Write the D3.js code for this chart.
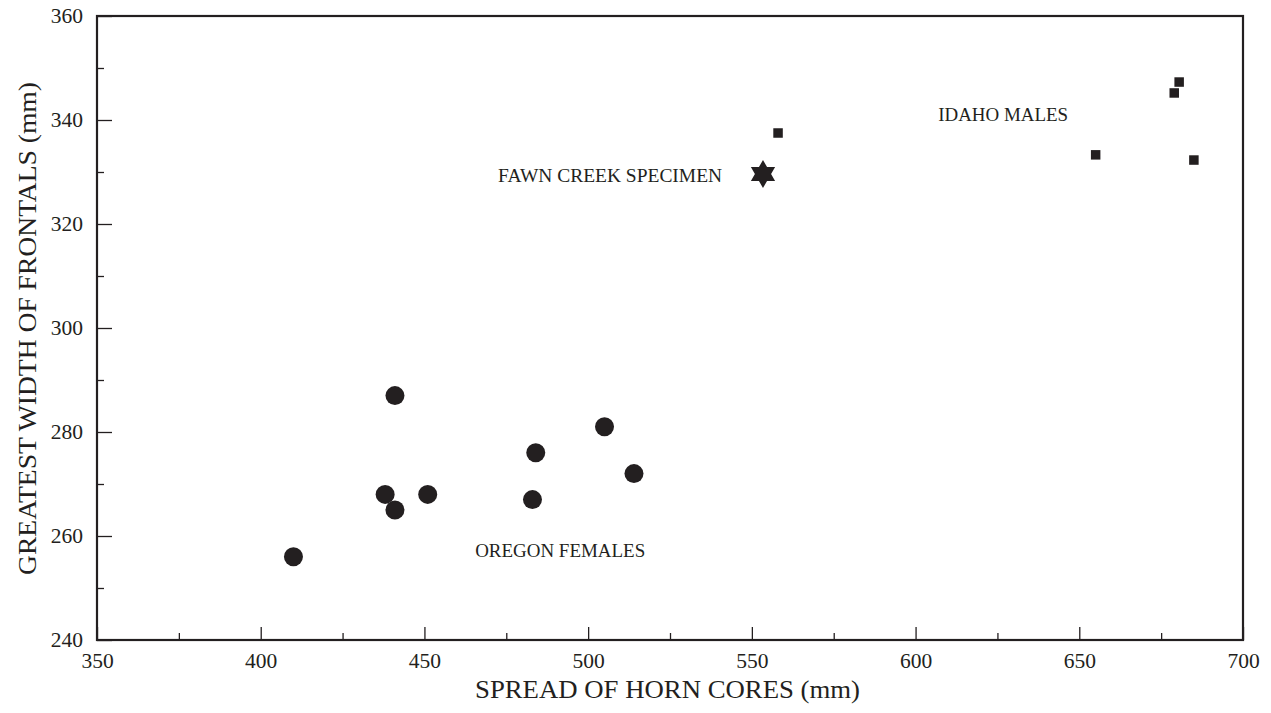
<!DOCTYPE html>
<html>
<head>
<meta charset="utf-8">
<script src="https://cdn.jsdelivr.net/npm/d3@7"></script>
<style>
  body { margin: 0; background: #fff; }
  text { font-family: "Liberation Serif", "Times New Roman", serif; fill: #231f20; }
</style>
</head>
<body>
<div id="chart"></div>
<script>
// data
var oregonX = [410, 441, 438, 441, 451, 483, 484, 505, 514];
var oregonY = [256, 287, 268, 265, 268, 267, 276, 281, 272];

var idahoX = [558, 655, 679, 680.5, 685];
var idahoY = [337.5, 333.3, 345.2, 347.3, 332.3];

var fawnX = [553.4];
var fawnY = [329.6];

var xTicks = [350, 400, 450, 500, 550, 600, 650, 700];
var xMinor = [375, 425, 475, 525, 575, 625, 675];
var yTicks = [240, 260, 280, 300, 320, 340, 360];
var yMinor = [250, 270, 290, 310, 330, 350];

var labelText = ["IDAHO MALES", "FAWN CREEK SPECIMEN", "OREGON FEMALES"];
var labelX = [606.9, 472.5, 465.5];
var labelY = [339.8, 328.1, 256];

//set up graph boundaries
var svgWidth = 1271;
var svgHeight = 713;
var margin = { top: 16, right: 28, bottom: 73, left: 97 };
var width = svgWidth - margin.left - margin.right;
var height = svgHeight - margin.top - margin.bottom;

var ink = "#231f20";

var svg = d3.select("#chart")
  .append("svg")
  .attr("width", svgWidth)
  .attr("height", svgHeight);

var chartGroup = svg.append("g")
  .attr("transform", `translate(${margin.left}, ${margin.top})`);

// scales
var xScale = d3.scaleLinear().domain([350, 700]).range([0, width]);
var yScale = d3.scaleLinear().domain([240, 360]).range([height, 0]);

// major axes, ticks pointing inward
var bottomAxis = d3.axisBottom(xScale)
  .tickValues(xTicks).tickSize(-13).tickPadding(13).tickFormat(d3.format("d"));
var leftAxis = d3.axisLeft(yScale)
  .tickValues(yTicks).tickSize(-15).tickPadding(14).tickFormat(d3.format("d"));

chartGroup.append("g")
  .attr("transform", `translate(0, ${height})`)
  .call(bottomAxis);
chartGroup.append("g").call(leftAxis);

// minor ticks
chartGroup.append("g")
  .attr("transform", `translate(0, ${height})`)
  .call(d3.axisBottom(xScale).tickValues(xMinor).tickSize(-7).tickFormat(""));
chartGroup.append("g")
  .call(d3.axisLeft(yScale).tickValues(yMinor).tickSize(-7).tickFormat(""));

chartGroup.selectAll(".domain").remove();
chartGroup.selectAll(".tick line").attr("stroke", ink).attr("stroke-width", 1.3);
chartGroup.selectAll(".tick text")
  .style("font-family", "'Liberation Serif', serif")
  .style("font-size", "21.5px")
  .attr("fill", ink);

// frame
chartGroup.append("rect")
  .attr("x", 0).attr("y", 0)
  .attr("width", width).attr("height", height)
  .attr("fill", "none")
  .attr("stroke", ink)
  .attr("stroke-width", 2.2);

// Oregon females: circles
chartGroup.selectAll("circle.oregon")
  .data(oregonX)
  .enter()
  .append("circle")
  .attr("class", "oregon")
  .attr("cx", d => xScale(d))
  .attr("cy", (d, i) => yScale(oregonY[i]))
  .attr("r", 9.5)
  .attr("fill", ink);

// Idaho males: squares
var sq = 9.5;
chartGroup.selectAll("rect.idaho")
  .data(idahoX)
  .enter()
  .append("rect")
  .attr("class", "idaho")
  .attr("x", d => xScale(d) - sq / 2)
  .attr("y", (d, i) => yScale(idahoY[i]) - sq / 2)
  .attr("width", sq)
  .attr("height", sq)
  .attr("fill", ink);

// Fawn Creek: six pointed star
var hexagram = {
  draw: function(context, size) {
    var R = Math.sqrt(size);
    var r = R / Math.sqrt(3);
    for (var k = 0; k < 12; k++) {
      var a = -Math.PI / 2 + k * Math.PI / 6;
      var rad = k % 2 === 0 ? R : r;
      if (k === 0) context.moveTo(rad * Math.cos(a), rad * Math.sin(a));
      else context.lineTo(rad * Math.cos(a), rad * Math.sin(a));
    }
    context.closePath();
  }
};
chartGroup.selectAll("path.fawn")
  .data(fawnX)
  .enter()
  .append("path")
  .attr("class", "fawn")
  .attr("d", d3.symbol().type(hexagram).size(14 * 14))
  .attr("transform", (d, i) => `translate(${xScale(d)}, ${yScale(fawnY[i])})`)
  .attr("fill", ink);

// group labels (scanned type runs a little wider than Liberation Serif)
var labelWidths = [130, 224, 170];
chartGroup.selectAll("text.label")
  .data(labelText)
  .enter()
  .append("text")
  .attr("class", "label")
  .attr("x", (d, i) => xScale(labelX[i]))
  .attr("y", (d, i) => yScale(labelY[i]))
  .attr("textLength", (d, i) => labelWidths[i])
  .attr("lengthAdjust", "spacingAndGlyphs")
  .style("font-size", "19px")
  .text(d => d);

// axis titles
svg.append("text")
  .attr("x", 475)
  .attr("y", 698)
  .attr("textLength", 385)
  .attr("lengthAdjust", "spacingAndGlyphs")
  .style("font-size", "25px")
  .text("SPREAD OF HORN CORES (mm)");

svg.append("text")
  .attr("transform", "translate(36, 575) rotate(-90)")
  .attr("x", 0)
  .attr("y", 0)
  .attr("textLength", 493)
  .attr("lengthAdjust", "spacingAndGlyphs")
  .style("font-size", "25px")
  .text("GREATEST WIDTH OF FRONTALS (mm)");
</script>
</body>
</html>
